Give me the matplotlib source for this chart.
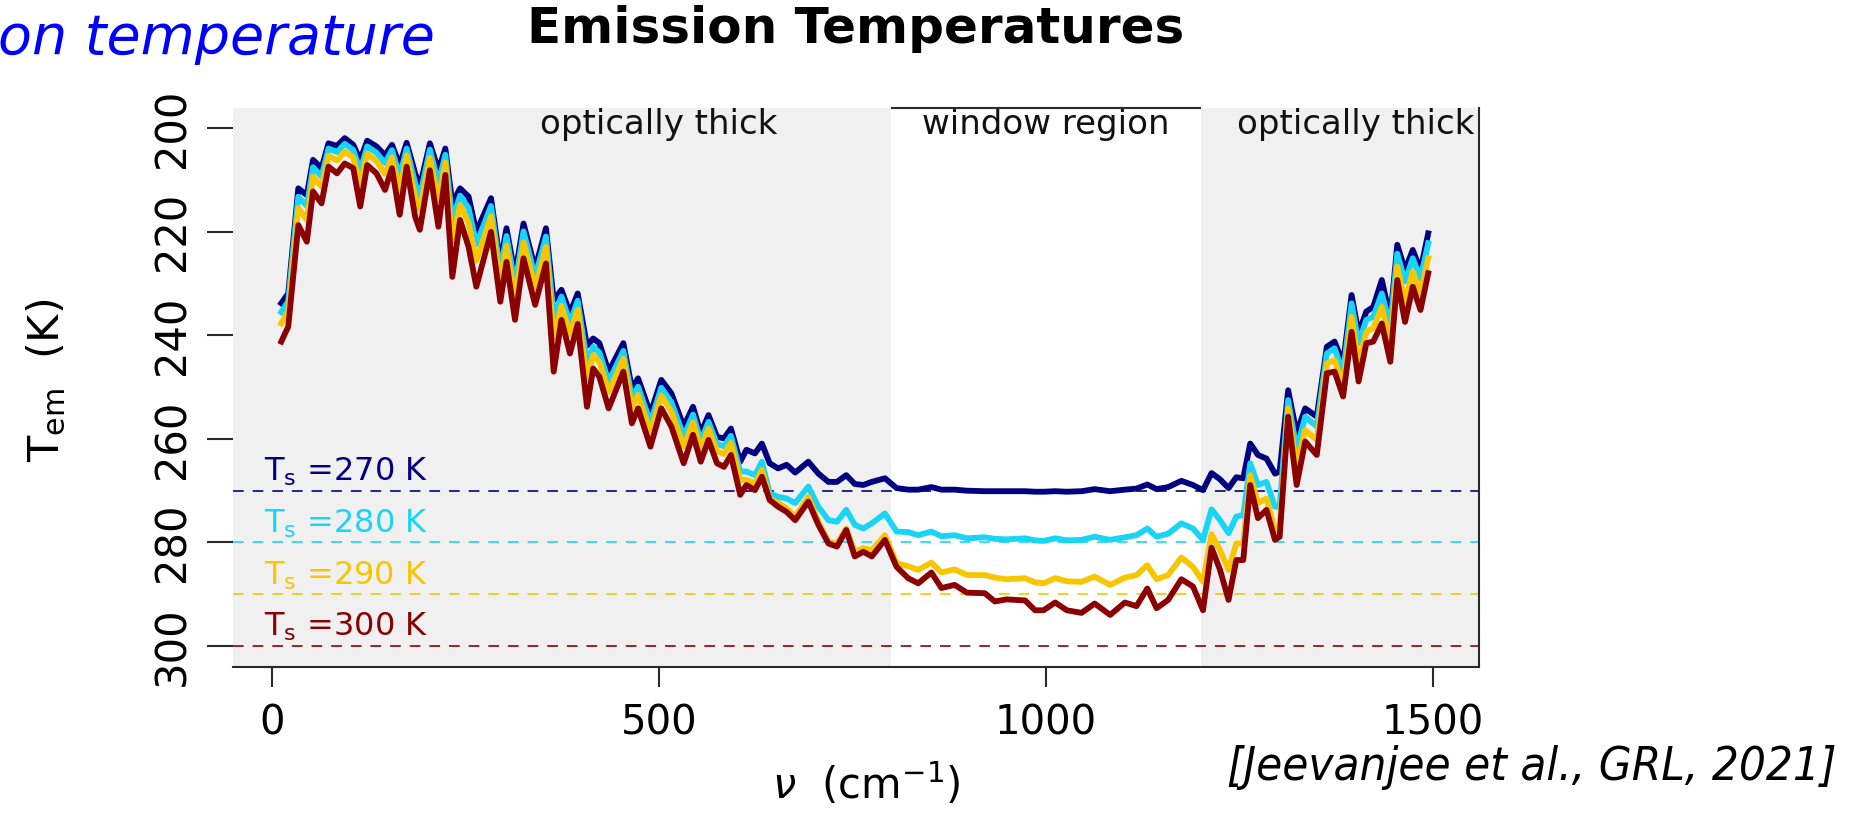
import matplotlib
matplotlib.use("Agg")
import matplotlib.pyplot as plt

W, H, DPI = 1851, 814, 100

nu = [12, 21, 34, 45, 53, 64, 73, 84, 94, 105,
      114, 123, 135, 146, 155, 165, 174, 185, 191, 204,
      215, 224, 233, 243, 254, 264, 283, 295, 303, 314,
      325, 340, 354, 364, 374, 385, 395, 407, 415, 423,
      435, 454, 465, 473, 489, 503, 516, 532, 544, 554,
      564, 575, 584, 593, 605, 613, 624, 633, 643, 654,
      665, 676, 693, 706, 719, 730, 742, 753, 764, 775,
      792, 807, 822, 835, 852, 865, 882, 898, 921, 934,
      949, 973, 986, 997, 1012, 1027, 1046, 1063, 1083, 1102,
      1117, 1131, 1143, 1158, 1175, 1190, 1203, 1214, 1225, 1236,
      1246, 1255, 1264, 1274, 1285, 1296, 1302, 1313, 1324, 1335,
      1350, 1363, 1373, 1384, 1395, 1404, 1414, 1423, 1434, 1445,
      1454, 1464, 1474, 1484, 1494]

tem_270 = [233.8, 231.9, 211.6, 212.9, 206.1, 207.7, 202.9, 203.4, 201.9, 203.2,
           206.1, 202.4, 203.5, 205.2, 203.2, 207.1, 202.8, 208.7, 211.3, 202.9,
           208.1, 203.9, 214.5, 211.6, 213.2, 220.0, 213.5, 226.1, 219.3, 228.3,
           218.4, 227.1, 219.3, 233.2, 231.2, 235.7, 231.9, 242.0, 240.6, 241.5,
           247.0, 241.5, 250.2, 248.3, 255.1, 248.6, 251.2, 257.6, 253.8, 258.9,
           255.4, 259.6, 259.9, 258.0, 264.4, 262.1, 262.8, 260.9, 264.7, 265.7,
           265.0, 266.5, 264.4, 266.7, 268.3, 268.3, 267.0, 268.7, 268.9, 268.3,
           267.6, 269.5, 269.8, 269.8, 269.3, 269.8, 269.8, 270.0, 270.1, 270.1,
           270.1, 270.1, 270.2, 270.2, 270.1, 270.2, 270.1, 269.7, 270.1, 269.8,
           269.6, 268.8, 269.7, 269.3, 268.1, 268.9, 269.9, 266.6, 267.8, 269.5,
           267.4, 267.6, 260.9, 263.1, 263.8, 266.7, 266.3, 250.6, 258.9, 254.1,
           255.7, 242.2, 241.2, 245.4, 232.2, 239.6, 235.4, 234.5, 229.3, 236.7,
           222.5, 227.4, 223.5, 227.4, 220.3]

tem_280 = [235.5, 233.4, 213.2, 215.0, 207.5, 209.3, 203.9, 204.6, 203.0, 204.2,
           208.2, 203.5, 204.7, 206.7, 204.2, 209.3, 203.9, 210.6, 213.2, 204.1,
           210.6, 205.1, 217.8, 213.0, 215.4, 222.4, 215.0, 227.8, 220.8, 230.3,
           219.9, 228.7, 220.9, 236.4, 232.5, 237.5, 233.3, 245.2, 242.2, 243.3,
           248.9, 243.0, 252.0, 249.9, 256.8, 250.1, 252.9, 259.5, 255.3, 260.4,
           256.7, 261.0, 261.4, 259.4, 266.3, 266.3, 267.0, 264.4, 270.5, 271.2,
           271.5, 272.4, 269.2, 273.1, 275.7, 276.0, 273.7, 276.6, 277.3, 276.3,
           274.4, 277.9, 278.0, 278.6, 277.9, 278.8, 278.6, 279.2, 279.0, 279.3,
           279.4, 279.2, 279.6, 279.7, 279.2, 279.6, 279.5, 278.9, 279.5, 279.0,
           278.6, 277.3, 278.9, 278.3, 276.3, 277.3, 279.5, 273.6, 275.7, 278.2,
           275.0, 274.7, 264.7, 268.9, 268.3, 273.1, 273.1, 252.5, 262.1, 255.7,
           257.6, 243.5, 242.5, 247.3, 233.8, 241.5, 237.0, 236.4, 231.9, 238.3,
           224.2, 229.6, 225.1, 229.0, 222.2]

tem_290 = [237.7, 235.3, 215.4, 217.7, 209.3, 211.3, 205.3, 206.2, 204.5, 205.6,
           210.9, 204.9, 206.3, 208.8, 205.6, 212.2, 205.2, 213.2, 215.7, 205.7,
           213.9, 206.6, 222.0, 214.8, 218.3, 225.6, 217.0, 230.0, 222.7, 232.9,
           222.0, 230.8, 222.9, 240.5, 234.3, 239.8, 235.0, 248.5, 243.8, 245.1,
           250.9, 244.5, 253.9, 251.5, 258.6, 251.6, 254.7, 261.5, 256.8, 261.9,
           258.0, 262.4, 262.9, 260.8, 267.9, 267.9, 268.6, 266.0, 271.5, 272.4,
           273.4, 275.0, 271.2, 276.0, 279.9, 280.2, 277.3, 281.8, 281.1, 281.5,
           278.6, 284.0, 284.6, 285.3, 283.9, 285.8, 285.2, 286.3, 286.3, 286.8,
           287.1, 286.9, 287.7, 287.9, 286.9, 287.5, 287.6, 286.6, 288.2, 286.8,
           286.3, 284.4, 287.1, 286.3, 282.9, 284.7, 287.6, 278.4, 281.5, 285.3,
           280.2, 280.2, 267.0, 272.4, 271.5, 277.6, 277.3, 254.1, 265.4, 258.3,
           260.2, 245.4, 244.8, 249.6, 236.4, 245.4, 239.3, 238.6, 234.5, 241.5,
           226.7, 233.5, 227.7, 231.9, 225.1]

tem_300 = [241.2, 238.3, 218.7, 221.9, 212.2, 214.5, 207.4, 208.7, 206.8, 207.7,
           215.1, 207.1, 208.7, 211.9, 207.7, 216.7, 207.4, 217.1, 219.6, 208.1,
           219.0, 209.0, 228.7, 217.7, 222.9, 230.6, 220.0, 233.5, 225.8, 237.0,
           225.1, 234.1, 226.1, 247.0, 237.0, 243.5, 237.8, 253.8, 246.4, 248.0,
           254.1, 247.0, 257.0, 254.1, 261.5, 254.1, 257.6, 264.7, 259.2, 264.4,
           260.2, 264.7, 265.4, 263.1, 270.8, 268.9, 269.9, 267.3, 271.8, 273.1,
           274.1, 275.7, 272.1, 276.6, 280.2, 280.8, 277.6, 282.7, 281.8, 282.7,
           279.5, 284.7, 286.9, 287.9, 285.8, 288.8, 288.2, 289.7, 289.8, 291.4,
           291.0, 291.2, 293.1, 293.1, 291.6, 293.1, 293.6, 291.8, 294.0, 291.6,
           292.3, 288.9, 292.7, 291.1, 287.1, 288.5, 293.1, 281.0, 285.3, 291.1,
           283.4, 283.4, 268.9, 275.3, 273.7, 279.5, 278.9, 255.7, 268.9, 260.5,
           263.1, 247.3, 247.0, 251.8, 239.3, 248.9, 241.5, 241.2, 237.7, 245.1,
           229.3, 237.4, 230.6, 235.1, 228.0]

surface_temps = [270, 280, 290, 300]
series = [tem_270, tem_280, tem_290, tem_300]
colors = ["#000080", "#1AD4F5", "#F7C600", "#8B0000"]

window_region = [800, 1200]
region_labels = ["optically thick", "window region", "optically thick"]
region_label_x = [500, 1000, 1400]
xticks = [0, 500, 1000, 1500]
yticks = [200, 220, 240, 260, 280, 300]

plt.rcParams["mathtext.fontset"] = "dejavusans"
plt.rcParams["font.family"] = ["DejaVu Sans"]

fig = plt.figure(figsize=(W / DPI, H / DPI), dpi=DPI)
fig.patch.set_facecolor("white")
ax = fig.add_axes([233.3 / W, 1 - 666.7 / H, 1246.0 / W, 559.1 / H])
ax.set_xlim(-50, 1560)
ax.set_ylim(304, 196)
ax.set_facecolor("#F0F0F0")
ax.axvspan(window_region[0], window_region[1], color="white", zorder=0, lw=0)

spine_col = "#2a2a2a"
for s in ["left", "top"]:
    ax.spines[s].set_visible(False)
for s in ["right", "bottom"]:
    ax.spines[s].set_color(spine_col)
    ax.spines[s].set_linewidth(1.5)
ax.plot(window_region, [1, 1], transform=ax.get_xaxis_transform(),
        color=spine_col, lw=1.5, clip_on=False, solid_capstyle="butt", zorder=5)

for ts, c in zip(surface_temps, colors):
    ax.axhline(ts, color=c, lw=1.4, dashes=(5.5, 4.6), alpha=0.85, zorder=2)
    ax.text(-10, ts - 0.5, r"T$_\mathrm{s}$ =%d K" % ts, color=c, fontsize=23,
            ha="left", va="bottom", zorder=4)

for vals, c in zip(series, colors):
    ax.plot(nu, vals, color=c, lw=4.2, solid_joinstyle="round", zorder=3)

for lab, xl in zip(region_labels, region_label_x):
    ax.text(xl, 199.3, lab, ha="center", va="center", fontsize=24.5, color="#111111")

ax.set_xticks(xticks)
ax.set_xticklabels([str(t) for t in xticks])
ax.set_yticks(yticks)
ax.set_yticklabels([str(t) for t in yticks], rotation=90, va="center")
ax.tick_params(axis="x", length=14.4, width=1.5, color=spine_col, pad=12, labelsize=29)
ax.tick_params(axis="y", length=18.7, width=1.5, color=spine_col, pad=10, labelsize=30)

fig.text(866 / W, 1 - 785 / H, r"$\nu$  (cm$^{-1}$)", ha="center", va="center", fontsize=30)
fig.text(47 / W, 1 - 380 / H, r"T$_\mathrm{em}$  (K)", ha="center", va="center",
         rotation=90, fontsize=31)

fig.text(856 / W, 1 - 29 / H, "Emission Temperatures", ha="center", va="center",
         fontsize=36, fontweight="bold")
fig.text(-2 / W, 1 - 54 / H, "on temperature", ha="left", va="baseline",
         fontsize=40, style="italic", color="blue")
fig.text(1836 / W, 1 - 768 / H, "[Jeevanjee et al., GRL, 2021]", ha="right", va="center",
         fontsize=34, style="italic", fontstretch="condensed", color="black")

fig.savefig("out.png", dpi=DPI)
